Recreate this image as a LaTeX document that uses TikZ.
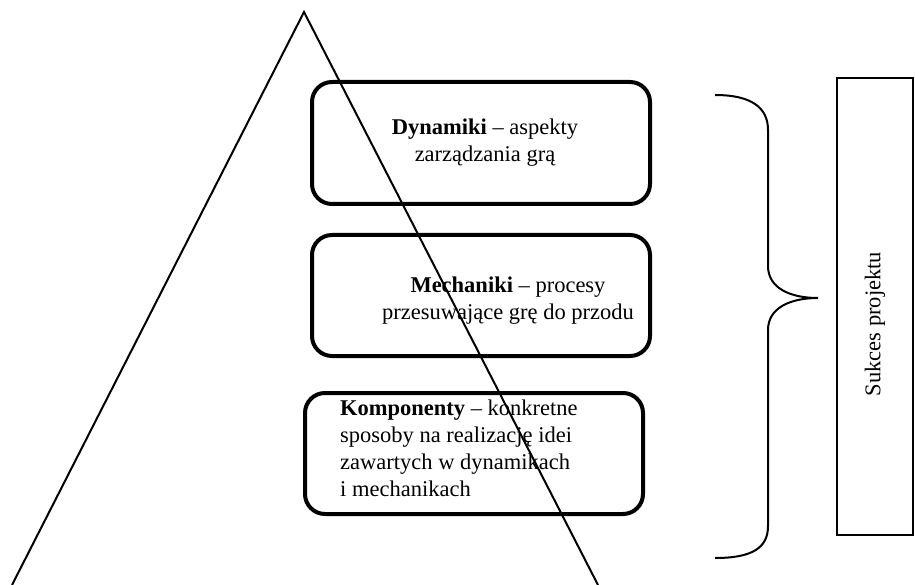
\documentclass[tikz,border=0pt]{standalone}
\usepackage{fontspec}
\setmainfont{Liberation Serif}
\begin{document}
\begin{tikzpicture}[x=1pt,y=-1pt,
  boxshape/.style={draw=black,line width=4pt,rounded corners=20pt,fill=white,
    minimum width=338pt,inner sep=0pt},
  txt/.style={inner sep=0pt,font=\fontsize{22.5}{27}\selectfont},
  thin/.style={draw=black,line width=2pt}]
\useasboundingbox (0,0) rectangle (915,585);
% boxes
\node[boxshape,minimum height=122pt] (dyn) at (481,143) {};
\node[boxshape,minimum height=121pt] (mech) at (481,295.5) {};
\node[boxshape,minimum height=121pt] (komp) at (474,453.5) {};
% texts
\node[txt,align=center] (tdyn) at (485,143) {\textbf{Dynamiki} – aspekty\\zarządzania grą};
\node[txt,align=center] (tmech) at (508,301) {\textbf{Mechaniki} – procesy\\przesuwające grę do przodu};
\node[txt,align=left,anchor=north west] (tkomp) at (340,400) {\textbf{Komponenty} – konkretne\\sposoby na realizację idei\\zawartych w dynamikach\\i mechanikach};
% triangle
\coordinate (apex) at (304,12);
\coordinate (bl) at (12,585);
\coordinate (br) at (598,585);
\draw[thin,line join=miter] (bl) -- (apex) -- (br);
% brace
\coordinate (b1) at (715,95);
\coordinate (tip) at (818,298);
\coordinate (b2) at (715,558);
\draw[thin] (b1) .. controls (752,95) and (768,108) .. (768,130)
  -- (768,266) .. controls (768,288) and (790,298) .. (tip)
  .. controls (790,298) and (768,308) .. (768,330)
  -- (768,526) .. controls (768,548) and (752,558) .. (b2);
% success box
\node[draw=black,line width=2pt,minimum width=76pt,minimum height=457pt,inner sep=0pt] (succ) at (875,306.5) {};
\node[txt,rotate=90] (tsucc) at (875,324) {Sukces projektu};
\end{tikzpicture}
\end{document}
